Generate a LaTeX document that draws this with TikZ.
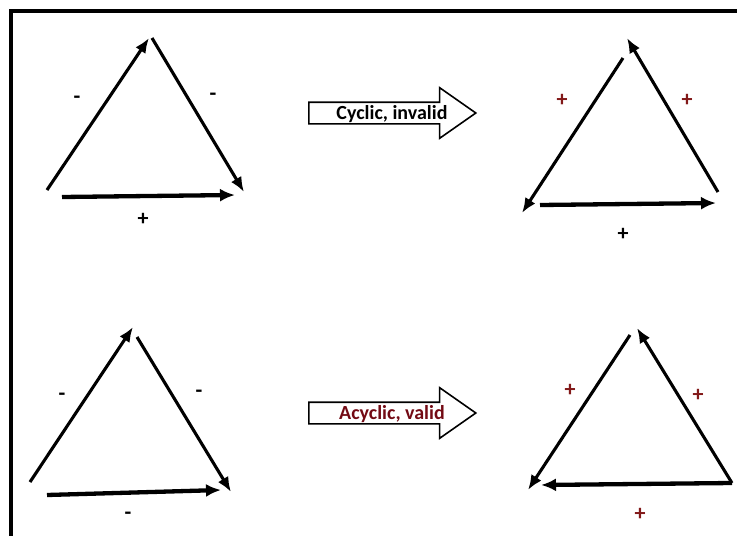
\documentclass[tikz,border=0pt]{standalone}
\usepackage{fontspec}
\setmainfont{Carlito}
\usepackage{tikz}
\usetikzlibrary{arrows.meta, shapes.arrows}
\usepackage{xcolor}
\definecolor{signred}{RGB}{130,25,25}
\definecolor{validred}{RGB}{115,10,20}

\begin{document}
\begin{tikzpicture}[
    x=1pt, y=-1pt,
    edge/.style={-{Latex[length=15pt, width=12pt]}, line width=3.1pt},
    base/.style={-{Latex[length=15pt, width=13pt]}, line width=4.3pt},
    sign/.style={font=\fontsize{22}{22}\selectfont\bfseries, inner sep=0pt},
    blockarrow/.style={single arrow, draw, line width=1.6pt, minimum height=167pt, single arrow head extend=14.5pt, single arrow tip angle=70, text height=11pt, text depth=4pt, inner xsep=1pt, inner ysep=2.5pt},
    blocklabel/.style={anchor=base, inner sep=0pt, font=\fontsize{20}{20}\selectfont\bfseries}
]
\useasboundingbox (0,0) rectangle (737,536);
\draw[line width=3.2pt] (11,536) -- (11,11) -- (737,11);

\coordinate (a1) at (47,190);
\coordinate (a2) at (149,38);
\coordinate (a3) at (152,38);
\coordinate (a4) at (244,192);
\coordinate (a5) at (62,197);
\coordinate (a6) at (235,195);
\draw[edge] (a1) -- (a2);
\draw[edge] (a3) -- (a4);
\draw[base] (a5) -- (a6);
\node[sign] (am1) at (77,100) {-};
\node[sign] (am2) at (213,97) {-};
\node[sign] (ap3) at (143,219) {+};

\node[blockarrow, anchor=tail] (cyclic) at (308,113) {};
\node[blocklabel] (cyclictext) at (392,119) {Cyclic, invalid};

\coordinate (b1) at (623,58);
\coordinate (b2) at (522,213);
\coordinate (b3) at (718,192);
\coordinate (b4) at (627,38);
\coordinate (b5) at (540,205);
\coordinate (b6) at (716,203);
\draw[edge] (b1) -- (b2);
\draw[edge] (b3) -- (b4);
\draw[base] (b5) -- (b6);
\node[sign, text=signred] (bp1) at (562,100) {+};
\node[sign, text=signred] (bp2) at (687,100) {+};
\node[sign] (bp3) at (623,234) {+};

\coordinate (c1) at (30,482);
\coordinate (c2) at (133,327);
\coordinate (c3) at (137,337);
\coordinate (c4) at (231,492);
\coordinate (c5) at (47,495);
\coordinate (c6) at (221,490);
\draw[edge] (c1) -- (c2);
\draw[edge] (c3) -- (c4);
\draw[base] (c5) -- (c6);
\node[sign] (cm1) at (62,397) {-};
\node[sign] (cm2) at (199,394) {-};
\node[sign] (cm3) at (128,516) {-};

\node[blockarrow, anchor=tail] (acyclic) at (308,413) {};
\node[blocklabel, text=validred] (acyclictext) at (392,419) {Acyclic, valid};

\coordinate (d1) at (630,335);
\coordinate (d2) at (528,490);
\coordinate (d3) at (732,483);
\coordinate (d4) at (637,328);
\coordinate (d5) at (541,485);
\draw[edge] (d1) -- (d2);
\draw[edge] (d3) -- (d4);
\draw[base] (d3) -- (d5);
\node[sign, text=signred] (dp1) at (570,390) {+};
\node[sign, text=signred] (dp2) at (698,395) {+};
\node[sign, text=signred] (dp3) at (640,514) {+};
\end{tikzpicture}
\end{document}
